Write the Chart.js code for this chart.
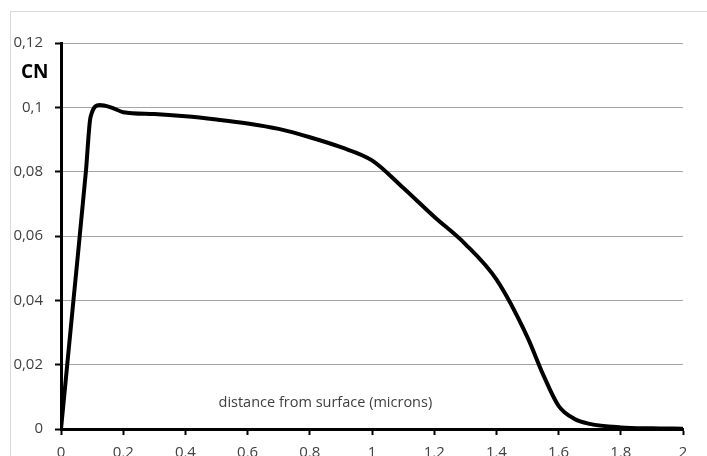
<!DOCTYPE html>
<html>
<head>
<meta charset="utf-8">
<script src="https://cdn.jsdelivr.net/npm/chart.js@4/dist/chart.umd.min.js"></script>
<style>
  html, body { margin: 0; padding: 0; background: #fff; }
  #wrap { position: relative; width: 707px; height: 456px; overflow: hidden; }
  #frame { position: absolute; left: 10px; top: 11px; right: -2px; bottom: -2px;
           border-left: 1px solid #d9d9d9; border-top: 1px solid #d9d9d9; pointer-events: none; }
  canvas { position: absolute; left: 0; top: 0; }
</style>
</head>
<body>
<div id="wrap">
  <canvas id="c" width="707" height="456"></canvas>
  <div id="frame"></div>
</div>
<script>
// distance from surface (microns)
const distance = [0, 0.04, 0.08, 0.095, 0.125, 0.16, 0.2, 0.3, 0.4, 0.5, 0.6, 0.7, 0.8, 0.9, 1.0, 1.1, 1.2, 1.3, 1.4, 1.5, 1.55, 1.6, 1.65, 1.7, 1.8, 1.9, 2.0];
// CN concentration
const cnValues = [0, 0.040, 0.080, 0.0970, 0.1007, 0.1000, 0.0985, 0.0979, 0.0972, 0.0962, 0.0950, 0.0933, 0.0907, 0.0876, 0.0835, 0.0750, 0.0660, 0.0575, 0.0465, 0.0285, 0.0170, 0.0072, 0.0032, 0.0016, 0.0005, 0.0002, 0.0001];
const xTicks = [0, 0.2, 0.4, 0.6, 0.8, 1, 1.2, 1.4, 1.6, 1.8, 2];
const yTicks = [0, 0.02, 0.04, 0.06, 0.08, 0.1, 0.12];
const yTitle = 'CN';
const xTitle = 'distance from surface (microns)';

const fmt = v => String(Math.round(v * 100) / 100).replace('.', ',');
const FONT = '"Open Sans", "Liberation Sans", sans-serif';
const TXT = '#404040';

const textPlugin = {
  id: 'texts',
  afterDraw(chart) {
    const ctx = chart.ctx, a = chart.chartArea;
    ctx.save();
    ctx.fillStyle = '#000';
    ctx.font = 'bold 19px ' + FONT;
    ctx.textAlign = 'left';
    ctx.textBaseline = 'middle';
    ctx.fillText(yTitle, 21, 73);
    ctx.fillStyle = TXT;
    ctx.font = '14.5px ' + FONT;
    ctx.textAlign = 'center';
    ctx.fillText(xTitle, a.left + (a.right - a.left) * 0.425, a.bottom - 26);
    ctx.restore();
  }
};

new Chart(document.getElementById('c'), {
  type: 'line',
  data: {
    datasets: [{
      data: distance.map((x, i) => ({ x, y: cnValues[i] })),
      borderColor: '#000',
      borderWidth: 4,
      pointRadius: 0,
      cubicInterpolationMode: 'monotone',
      fill: false
    }]
  },
  options: {
    responsive: false,
    animation: false,
    layout: { padding: { left: 0, right: 24, top: 43, bottom: 0 } },
    plugins: { legend: { display: false }, tooltip: { enabled: false } },
    scales: {
      x: {
        type: 'linear', min: 0, max: 2,
        afterBuildTicks: s => { s.ticks = xTicks.map(v => ({ value: v })); },
        afterFit: s => { s.height = 27; },
        grid: { drawOnChartArea: false, drawTicks: true, tickLength: 6, tickColor: '#000', tickWidth: 2 },
        border: { color: '#000', width: 3 },
        ticks: { color: TXT, font: { family: FONT, size: 15 }, padding: 9, maxRotation: 0, callback: v => fmt(v) }
      },
      y: {
        type: 'linear', min: 0, max: 0.12,
        afterBuildTicks: s => { s.ticks = yTicks.map(v => ({ value: v })); },
        afterFit: s => { s.width = 61; },
        grid: { color: '#a6a6a6', lineWidth: 1, drawTicks: true, tickLength: 6, tickColor: '#000', tickWidth: 2 },
        border: { color: '#000', width: 3 },
        ticks: { color: TXT, font: { family: FONT, size: 15 }, padding: 12, callback: v => fmt(v) }
      }
    }
  },
  plugins: [textPlugin]
});
</script>
</body>
</html>
